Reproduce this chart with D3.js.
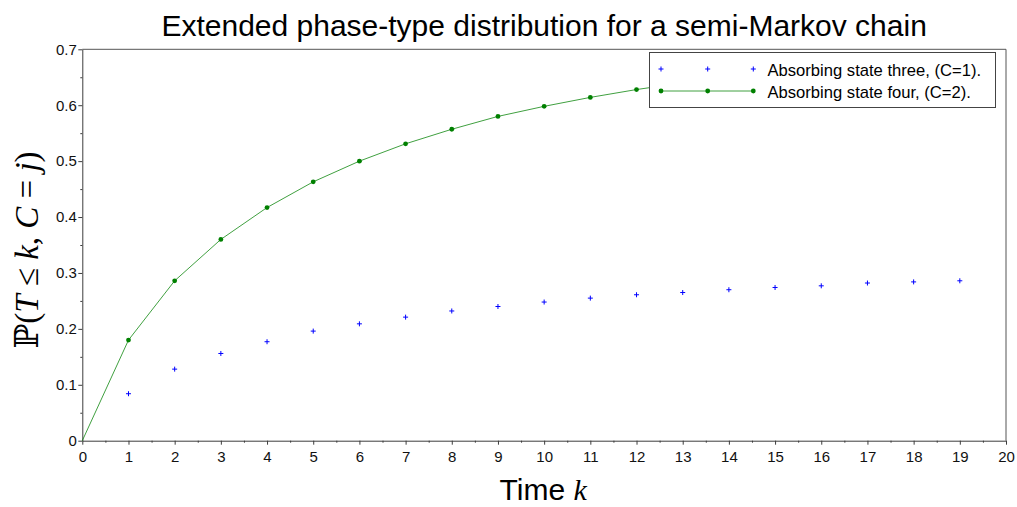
<!DOCTYPE html>
<html>
<head>
<meta charset="utf-8">
<script src="https://cdn.jsdelivr.net/npm/d3@7"></script>
<style>
  html, body { margin: 0; padding: 0; background: #fff; }
  svg { display: block; }
</style>
</head>
<body>
<svg id="chart" width="1017" height="507"></svg>
<script>
// ---- data ----
const kGreen = [0,1,2,3,4,5,6,7,8,9,10,11,12,13,14,15,16,17,18,19];
const valGreen = [0, 0.180, 0.286, 0.360, 0.417, 0.463, 0.500, 0.531, 0.557, 0.580, 0.598, 0.614, 0.628, 0.640, 0.651, 0.660, 0.668, 0.675, 0.681, 0.686];
const kBlue = [1,2,3,4,5,6,7,8,9,10,11,12,13,14,15,16,17,18,19];
const valBlue = [0.084, 0.128, 0.156, 0.177, 0.196, 0.209, 0.221, 0.232, 0.240, 0.248, 0.255, 0.261, 0.265, 0.270, 0.274, 0.277, 0.282, 0.284, 0.286];
const xTicks = [0,1,2,3,4,5,6,7,8,9,10,11,12,13,14,15,16,17,18,19,20];
const xTickLabels = ["0","1","2","3","4","5","6","7","8","9","10","11","12","13","14","15","16","17","18","19","20"];
const yTicks = [0,0.1,0.2,0.3,0.4,0.5,0.6,0.7];
const yTickLabels = ["0","0.1","0.2","0.3","0.4","0.5","0.6","0.7"];
const seriesNames = ["Absorbing state three, (C=1).", "Absorbing state four, (C=2)."];
const titleText = "Extended phase-type distribution for a semi-Markov chain";

// ---- layout ----
const L = 82.3, R = 1006, T = 49.3, B = 440.7;
const sans = "'Liberation Sans', Arial, sans-serif";
const serif = "'Liberation Serif', 'DejaVu Serif', serif";
const blue = "#0000ff", green = "#008000", axisCol = "#3c3c3c";

const svg = d3.select("#chart");
const x = d3.scaleLinear().domain([0, 20]).range([L, R]);
const y = d3.scaleLinear().domain([0, 0.7]).range([B, T]);

// frame (top & right)
svg.append("path")
  .attr("d", `M${L},${T}H${R}V${B}`)
  .attr("fill", "none").attr("stroke", "#555").attr("stroke-width", 1);

// x axis
const xMinor = d3.range(0, 20, 1).map(d => d + 0.5);
const gxMinor = svg.append("g").attr("transform", `translate(0,${B})`)
  .call(d3.axisBottom(x).tickValues(xMinor).tickSize(2).tickFormat(""));
const gx = svg.append("g").attr("transform", `translate(0,${B})`)
  .call(d3.axisBottom(x).tickValues(xTicks).tickSize(4).tickSizeOuter(0).tickPadding(7)
    .tickFormat((d, i) => xTickLabels[i]));
// y axis
const yMinor = d3.range(0, 7).map(d => d / 10 + 0.05);
const gyMinor = svg.append("g").attr("transform", `translate(${L},0)`)
  .call(d3.axisLeft(y).tickValues(yMinor).tickSize(2).tickFormat(""));
const gy = svg.append("g").attr("transform", `translate(${L},0)`)
  .call(d3.axisLeft(y).tickValues(yTicks).tickSize(4).tickSizeOuter(0).tickPadding(1.5)
    .tickFormat((d, i) => yTickLabels[i]));

[gx, gy, gxMinor, gyMinor].forEach(g => {
  g.selectAll("path").attr("stroke", axisCol);
  g.selectAll("line").attr("stroke", axisCol);
  g.selectAll("text").attr("font-family", sans).attr("font-size", 15).attr("fill", "#111");
});
gxMinor.select(".domain").remove();
gyMinor.select(".domain").remove();

// green line + markers
const line = d3.line().x((d, i) => x(kGreen[i])).y(d => y(d));
svg.append("path").datum(valGreen)
  .attr("d", line).attr("fill", "none").attr("stroke", green).attr("stroke-width", 1)
  .attr("stroke-opacity", 0.75);
svg.append("g").selectAll("circle").data(valGreen.slice(1)).join("circle")
  .attr("cx", (d, i) => x(kGreen[i + 1])).attr("cy", d => y(d)).attr("r", 2.4)
  .attr("fill", green);

// blue plus markers
const plus = (cx, cy, s) => `M${cx - s},${cy}H${cx + s}M${cx},${cy - s}V${cy + s}`;
svg.append("g").selectAll("path").data(valBlue).join("path")
  .attr("d", (d, i) => plus(x(kBlue[i]), y(d), 2.5))
  .attr("stroke", blue).attr("stroke-width", 1).attr("fill", "none");

// legend
const lg = svg.append("g");
lg.append("rect").attr("x", 649.5).attr("y", 52.5).attr("width", 346).attr("height", 55)
  .attr("fill", "#fff").attr("stroke", "#444").attr("stroke-width", 1);
const mx = [661, 707.7, 753.3];
mx.forEach(px => {
  lg.append("path").attr("d", plus(px, 69, 2.5)).attr("stroke", blue).attr("stroke-width", 1);
});
lg.append("line").attr("x1", mx[0]).attr("x2", mx[2]).attr("y1", 91).attr("y2", 91)
  .attr("stroke", green).attr("stroke-width", 1).attr("stroke-opacity", 0.75);
mx.forEach(px => {
  lg.append("circle").attr("cx", px).attr("cy", 91).attr("r", 2.4).attr("fill", green);
});
seriesNames.forEach((s, i) => {
  lg.append("text").attr("x", 767.5).attr("y", 75.5 + i * 22)
    .attr("font-family", sans).attr("font-size", 16.6).attr("fill", "#000").text(s);
});

// title
svg.append("text").attr("x", (L + R) / 2).attr("y", 36).attr("text-anchor", "middle")
  .attr("font-family", sans).attr("font-size", 30).attr("fill", "#000").text(titleText);

// x label
const xl = svg.append("text").attr("x", (L + R) / 2 - 1).attr("y", 500).attr("text-anchor", "middle")
  .attr("font-size", 30).attr("fill", "#000");
xl.append("tspan").attr("font-family", sans).text("Time ");
xl.append("tspan").attr("font-family", serif).attr("font-style", "italic").text("k");

// y label
const yl = svg.append("text").attr("transform", `translate(38,250) rotate(-90)`)
  .attr("text-anchor", "middle").attr("font-family", serif).attr("font-size", 33).attr("fill", "#000");
const parts = [["ℙ(", "normal"], ["T", "italic"], [" ≤ ", "normal"], ["k", "italic"], [", ", "normal"],
  ["C", "italic"], [" = ", "normal"], ["j", "italic"], [")", "normal"]];
parts.forEach(p => yl.append("tspan").attr("font-style", p[1]).text(p[0]));
</script>
</body>
</html>
